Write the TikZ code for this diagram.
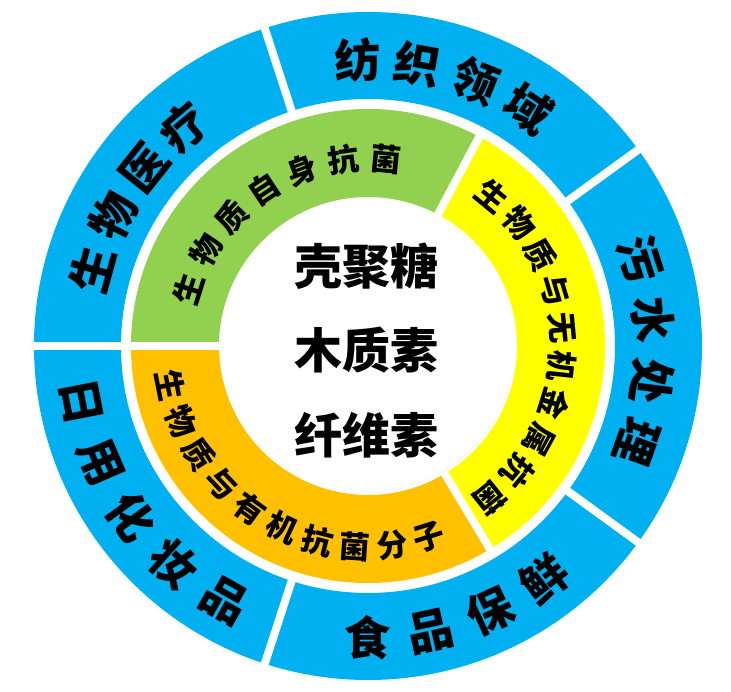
\documentclass[tikz,border=0pt]{standalone}
\usepackage{fontspec}
\newfontfamily\cjk{Noto Sans CJK SC}
\definecolor{ringblue}{RGB}{0,176,240}
\definecolor{ringgreen}{RGB}{146,208,80}
\definecolor{ringyellow}{RGB}{255,255,0}
\definecolor{ringorange}{RGB}{255,192,0}
\tikzset{
  outchar/.style={font=\cjk\bfseries\fontsize{46}{46}\selectfont,inner sep=0pt},
  inchar/.style={font=\cjk\bfseries\fontsize{31}{31}\selectfont,inner sep=0pt},
  midtext/.style={font=\cjk\bfseries\fontsize{48}{48}\selectfont,inner sep=0pt}
}
\begin{document}
\begin{tikzpicture}[x=1pt,y=1pt]

\useasboundingbox (-368,-346) rectangle (363,346);

\fill [ringblue,even odd rule] (0,0) circle (334pt) (0,0) circle (247pt);
\foreach \a in {180,108,36,-36,-108}
  \draw [white,line width=8pt] (\a:240pt) -- (\a:345pt);

\fill [ringgreen] (62:237pt) arc [start angle=62,end angle=180,radius=237pt] -- (180:149pt) arc [start angle=180,end angle=62,radius=149pt] -- cycle;
\fill [ringyellow] (-59:237pt) arc [start angle=-59,end angle=62,radius=237pt] -- (62:149pt) arc [start angle=62,end angle=-59,radius=149pt] -- cycle;
\fill [ringorange] (180:237pt) arc [start angle=180,end angle=301,radius=237pt] -- (301:149pt) arc [start angle=301,end angle=180,radius=149pt] -- cycle;
\foreach \a in {180,62,-59}
  \draw [white,line width=8pt] (\a:140pt) -- (\a:243pt);

\draw [gray!30,densely dotted,line width=0.5pt] (-90:146pt) arc [start angle=-90,end angle=-15,radius=146pt];

\foreach \c [count=\i from 0] in {生,物,医,疗}
  \node [outchar,rotate=164.5-11.5*\i-90] (med-\i) at ({164.5-11.5*\i}:286pt) {\c};
\foreach \c [count=\i from 0] in {纺,织,领,域}
  \node [outchar,rotate=92-12*\i-90] (tex-\i) at ({92-12*\i}:286pt) {\c};
\foreach \c [count=\i from 0] in {污,水,处,理}
  \node [outchar,rotate=17.8-12.5*\i-90] (water-\i) at ({17.8-12.5*\i}:286pt) {\c};
\foreach \c [count=\i from 0] in {食,品,保,鲜}
  \node [outchar,rotate=270+12.4*\i+90] (food-\i) at ({270+12.4*\i}:292pt) {\c};
\foreach \c [count=\i from 0] in {日,用,化,妆,品}
  \node [outchar,rotate=191+12.4*\i+90] (cosm-\i) at ({191+12.4*\i}:292pt) {\c};

\foreach \c [count=\i from 0] in {生,物,质,自,身,抗,菌}
  \node [inchar,rotate=162.5-13*\i-90] (self-\i) at ({162.5-13*\i}:188pt) {\c};
\foreach \c [count=\i from 0] in {生,物,质,与,无,机,金,属,抗,菌}
  \node [inchar,rotate=50.5-11.3*\i-90] (metal-\i) at ({50.5-11.3*\i}:195pt) {\c};
\foreach \c [count=\i from 0] in {生,物,质,与,有,机,抗,菌,分,子}
  \node [inchar,rotate=191.3+10.7*\i+90] (organic-\i) at ({191.3+10.7*\i}:201pt) {\c};

\node [midtext] (chitosan) at (-1,80) {壳聚糖};
\node [midtext] (lignin) at (-1,-4) {木质素};
\node [midtext] (cellulose) at (-1,-89) {纤维素};

\end{tikzpicture}
\end{document}
